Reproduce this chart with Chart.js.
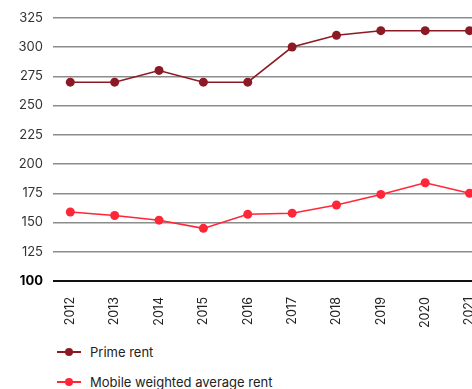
<!DOCTYPE html>
<html>
<head>
<meta charset="utf-8">
<script src="https://cdn.jsdelivr.net/npm/chart.js@4.4.1/dist/chart.umd.min.js"></script>
<style>
  html, body { margin: 0; padding: 0; background: #fff; }
  body { width: 472px; height: 389px; overflow: hidden; position: relative; font-family: Inter, sans-serif; }
  #wrap { position: absolute; left: 0; top: 0; width: 500px; height: 330px; }
  #legend { position: absolute; left: 57px; top: 340px; }
  .item { position: relative; height: 30px; line-height: 24px; font-size: 13px; color: #222; padding-left: 33px; }
  .item .ln { position: absolute; left: 0; top: 11px; width: 24px; height: 2px; }
  .item .dot { position: absolute; left: 8px; top: 8px; width: 8px; height: 8px; border-radius: 50%; }
</style>
</head>
<body>
<div id="wrap"><canvas id="chart"></canvas></div>
<div id="legend"></div>
<script>
const years = [2012, 2013, 2014, 2015, 2016, 2017, 2018, 2019, 2020, 2021];
const primeRent = [270, 270, 280, 270, 270, 300, 310, 314, 314, 314];
const mobileRent = [159, 156, 152, 145, 157, 158, 165, 174, 184, 175];
const seriesNames = ['Prime rent', 'Mobile weighted average rent'];
const seriesColors = ['#8b1a24', '#ff2637'];

function points(values) {
  return years.map((yr, i) => ({ x: yr, y: values[i] }));
}

function lineSet(label, values, color) {
  return {
    label: label,
    data: points(values),
    borderColor: color,
    backgroundColor: color,
    borderWidth: 1.5,
    pointRadius: 4.5,
    pointHoverRadius: 4.5,
    pointBorderWidth: 0,
    tension: 0,
    clip: false
  };
}

const chart = new Chart(document.getElementById('chart'), {
  type: 'line',
  data: {
    datasets: [
      lineSet(seriesNames[0], primeRent, seriesColors[0]),
      lineSet(seriesNames[1], mobileRent, seriesColors[1])
    ]
  },
  options: {
    responsive: true,
    maintainAspectRatio: false,
    animation: false,
    layout: { padding: { top: 11, right: 0, left: 0, bottom: 0 } },
    plugins: { legend: { display: false }, tooltip: { enabled: false } },
    scales: {
      x: {
        type: 'linear',
        min: 2011.61,
        max: 2021.585,
        border: { display: false },
        grid: { display: false },
        afterFit: s => { s.height = 49; s.paddingLeft = 0; s.paddingRight = 0; },
        ticks: {
          stepSize: 1,
          includeBounds: false,
          autoSkip: false,
          minRotation: 90,
          maxRotation: 90,
          padding: 8,
          color: '#222',
          font: { family: 'Inter', size: 12.5 },
          callback: v => String(v)
        }
      },
      y: {
        min: 100,
        max: 325,
        border: { display: false },
        afterFit: s => { s.width = 53; },
        grid: {
          drawTicks: false,
          color: c => c.tick && c.tick.value === 100 ? '#111' : '#8c8c8c',
          lineWidth: c => c.tick && c.tick.value === 100 ? 2 : 1.5
        },
        ticks: {
          stepSize: 25,
          padding: 10,
          color: c => c.tick && c.tick.value === 100 ? '#000' : '#333',
          font: c => ({ family: 'Inter', size: 13, weight: c.tick && c.tick.value === 100 ? 'bold' : 'normal' })
        }
      }
    }
  }
});

// legend built from the chart's datasets
const legend = document.getElementById('legend');
chart.data.datasets.forEach(ds => {
  const item = document.createElement('div');
  item.className = 'item';
  item.innerHTML = `<span class="ln" style="background:${ds.borderColor}"></span>` +
    `<span class="dot" style="background:${ds.borderColor}"></span>${ds.label}`;
  legend.appendChild(item);
});
</script>
</body>
</html>
